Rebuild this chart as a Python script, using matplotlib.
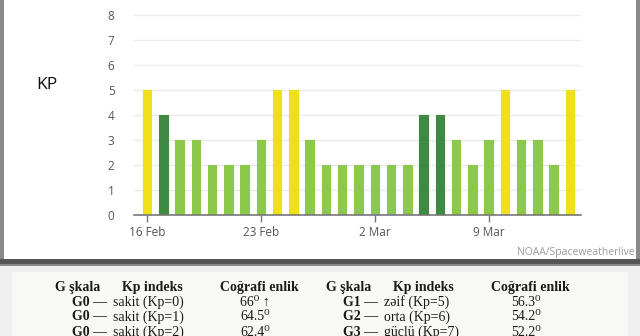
import numpy as np
import matplotlib.pyplot as plt
from matplotlib.patches import Rectangle

# Kp index, one bar per day from 16 Feb to 14 Mar
days = np.arange(27)
kp = [5, 4, 3, 3, 2, 2, 2, 3, 5, 5, 3, 2, 2, 2, 2, 2, 2, 4, 4, 3, 2, 3, 5, 3, 3, 2, 5]
tick_days = [0, 7, 14, 21]
tick_labels = ['16 Feb', '23 Feb', '2 Mar', '9 Mar']

# table under the chart
hdr = ['G şkala', 'Kp indeks', 'Coğrafi enlik']
left_g = ['G0 —', 'G0 —', 'G0 —']
left_kp = ['sakit (Kp=0)', 'sakit (Kp=1)', 'sakit (Kp=2)']
left_lat = ['66⁰ ↑', '64.5⁰', '62.4⁰']
right_g = ['G1 —', 'G2 —', 'G3 —']
right_kp = ['zəif (Kp=5)', 'orta (Kp=6)', 'güclü (Kp=7)']
right_lat = ['56.3⁰', '54.2⁰', '52.2⁰']

W, H = 640, 336
def fx(px): return px / W
def fy(py): return 1 - py / H

def bar_color(v):
    if v >= 5:
        return '#f0e01c'
    if v == 4:
        return '#3e8a43'
    return '#8cc84b'

fig = plt.figure(figsize=(6.4, 3.36), dpi=100)
fig.patch.set_facecolor('white')

# frame around the screenshot of the chart
def rect(x0, y0, x1, y1, c):
    fig.patches.append(Rectangle((fx(x0), fy(y1)), fx(x1) - fx(x0), fy(y0) - fy(y1),
                                 transform=fig.transFigure, facecolor=c,
                                 edgecolor='none', zorder=-5))

rect(0, 0, 640, 266, '#8a8a8a')
rect(4, 0, 636, 259, 'white')
rect(0, 259, 640, 264, '#555555')
rect(0, 266, 640, 336, '#efefef')
rect(12, 272, 628, 336, '#f8f8f6')

ax = fig.add_axes([fx(134), fy(215), fx(581) - fx(134), fy(15) - fy(215)])
ax.set_zorder(2)
ax.set_facecolor('none')
ax.bar(days, kp, width=0.52, color=[bar_color(v) for v in kp],
       edgecolor=[bar_color(v) for v in kp], linewidth=0.8, joinstyle='round', zorder=3)
ax.set_xlim(-0.8, 26.68)
ax.set_ylim(0, 8)
ax.set_yticks(range(9))
ax.yaxis.grid(True, color='#ebebeb', linewidth=1, zorder=0)
ax.set_xticks(tick_days)
ax.set_xticklabels(tick_labels)
for s in ['top', 'right', 'left']:
    ax.spines[s].set_visible(False)
ax.spines['bottom'].set_color('#777777')
ax.spines['bottom'].set_linewidth(1.2)
ax.spines['bottom'].set_zorder(4)
ax.tick_params(axis='y', length=0, pad=14, labelsize=8.5, labelcolor='#555555')
ax.tick_params(axis='x', length=5, width=1, color='#777777', pad=3,
               labelsize=8.5, labelcolor='#555555')
for lb in ax.get_xticklabels() + ax.get_yticklabels():
    lb.set_family('Open Sans')

fig.text(fx(47), fy(85), 'KP', ha='center', va='center', fontsize=12.5,
         family='Open Sans', color='#111111')
fig.text(fx(635), fy(252), 'NOAA/Spaceweatherlive', ha='right', va='center',
         fontsize=7.5, family='Open Sans', color='#9a9a9a')

serif = ['Liberation Serif', 'DejaVu Serif']
tkw = dict(fontsize=10, family=serif, color='#1a1a1a', va='center')
for off, g, k, lat in [(0, left_g, left_kp, left_lat), (271, right_g, right_kp, right_lat)]:
    fig.text(fx(55 + off), fy(287), hdr[0], ha='left', weight='bold', **tkw)
    fig.text(fx(183 + off), fy(287), hdr[1], ha='right', weight='bold', **tkw)
    fig.text(fx(259 + off), fy(287), hdr[2], ha='center', weight='bold', **tkw)
    for i, yy in enumerate([302, 317, 332]):
        fig.text(fx(107 + off), fy(yy), g[i], ha='right', weight='bold', **tkw)
        fig.text(fx(113 + off), fy(yy), k[i], ha='left', **tkw)
        fig.text(fx(255 + off), fy(yy), lat[i], ha='center', **tkw)

fig.savefig('out.png', dpi=100)
